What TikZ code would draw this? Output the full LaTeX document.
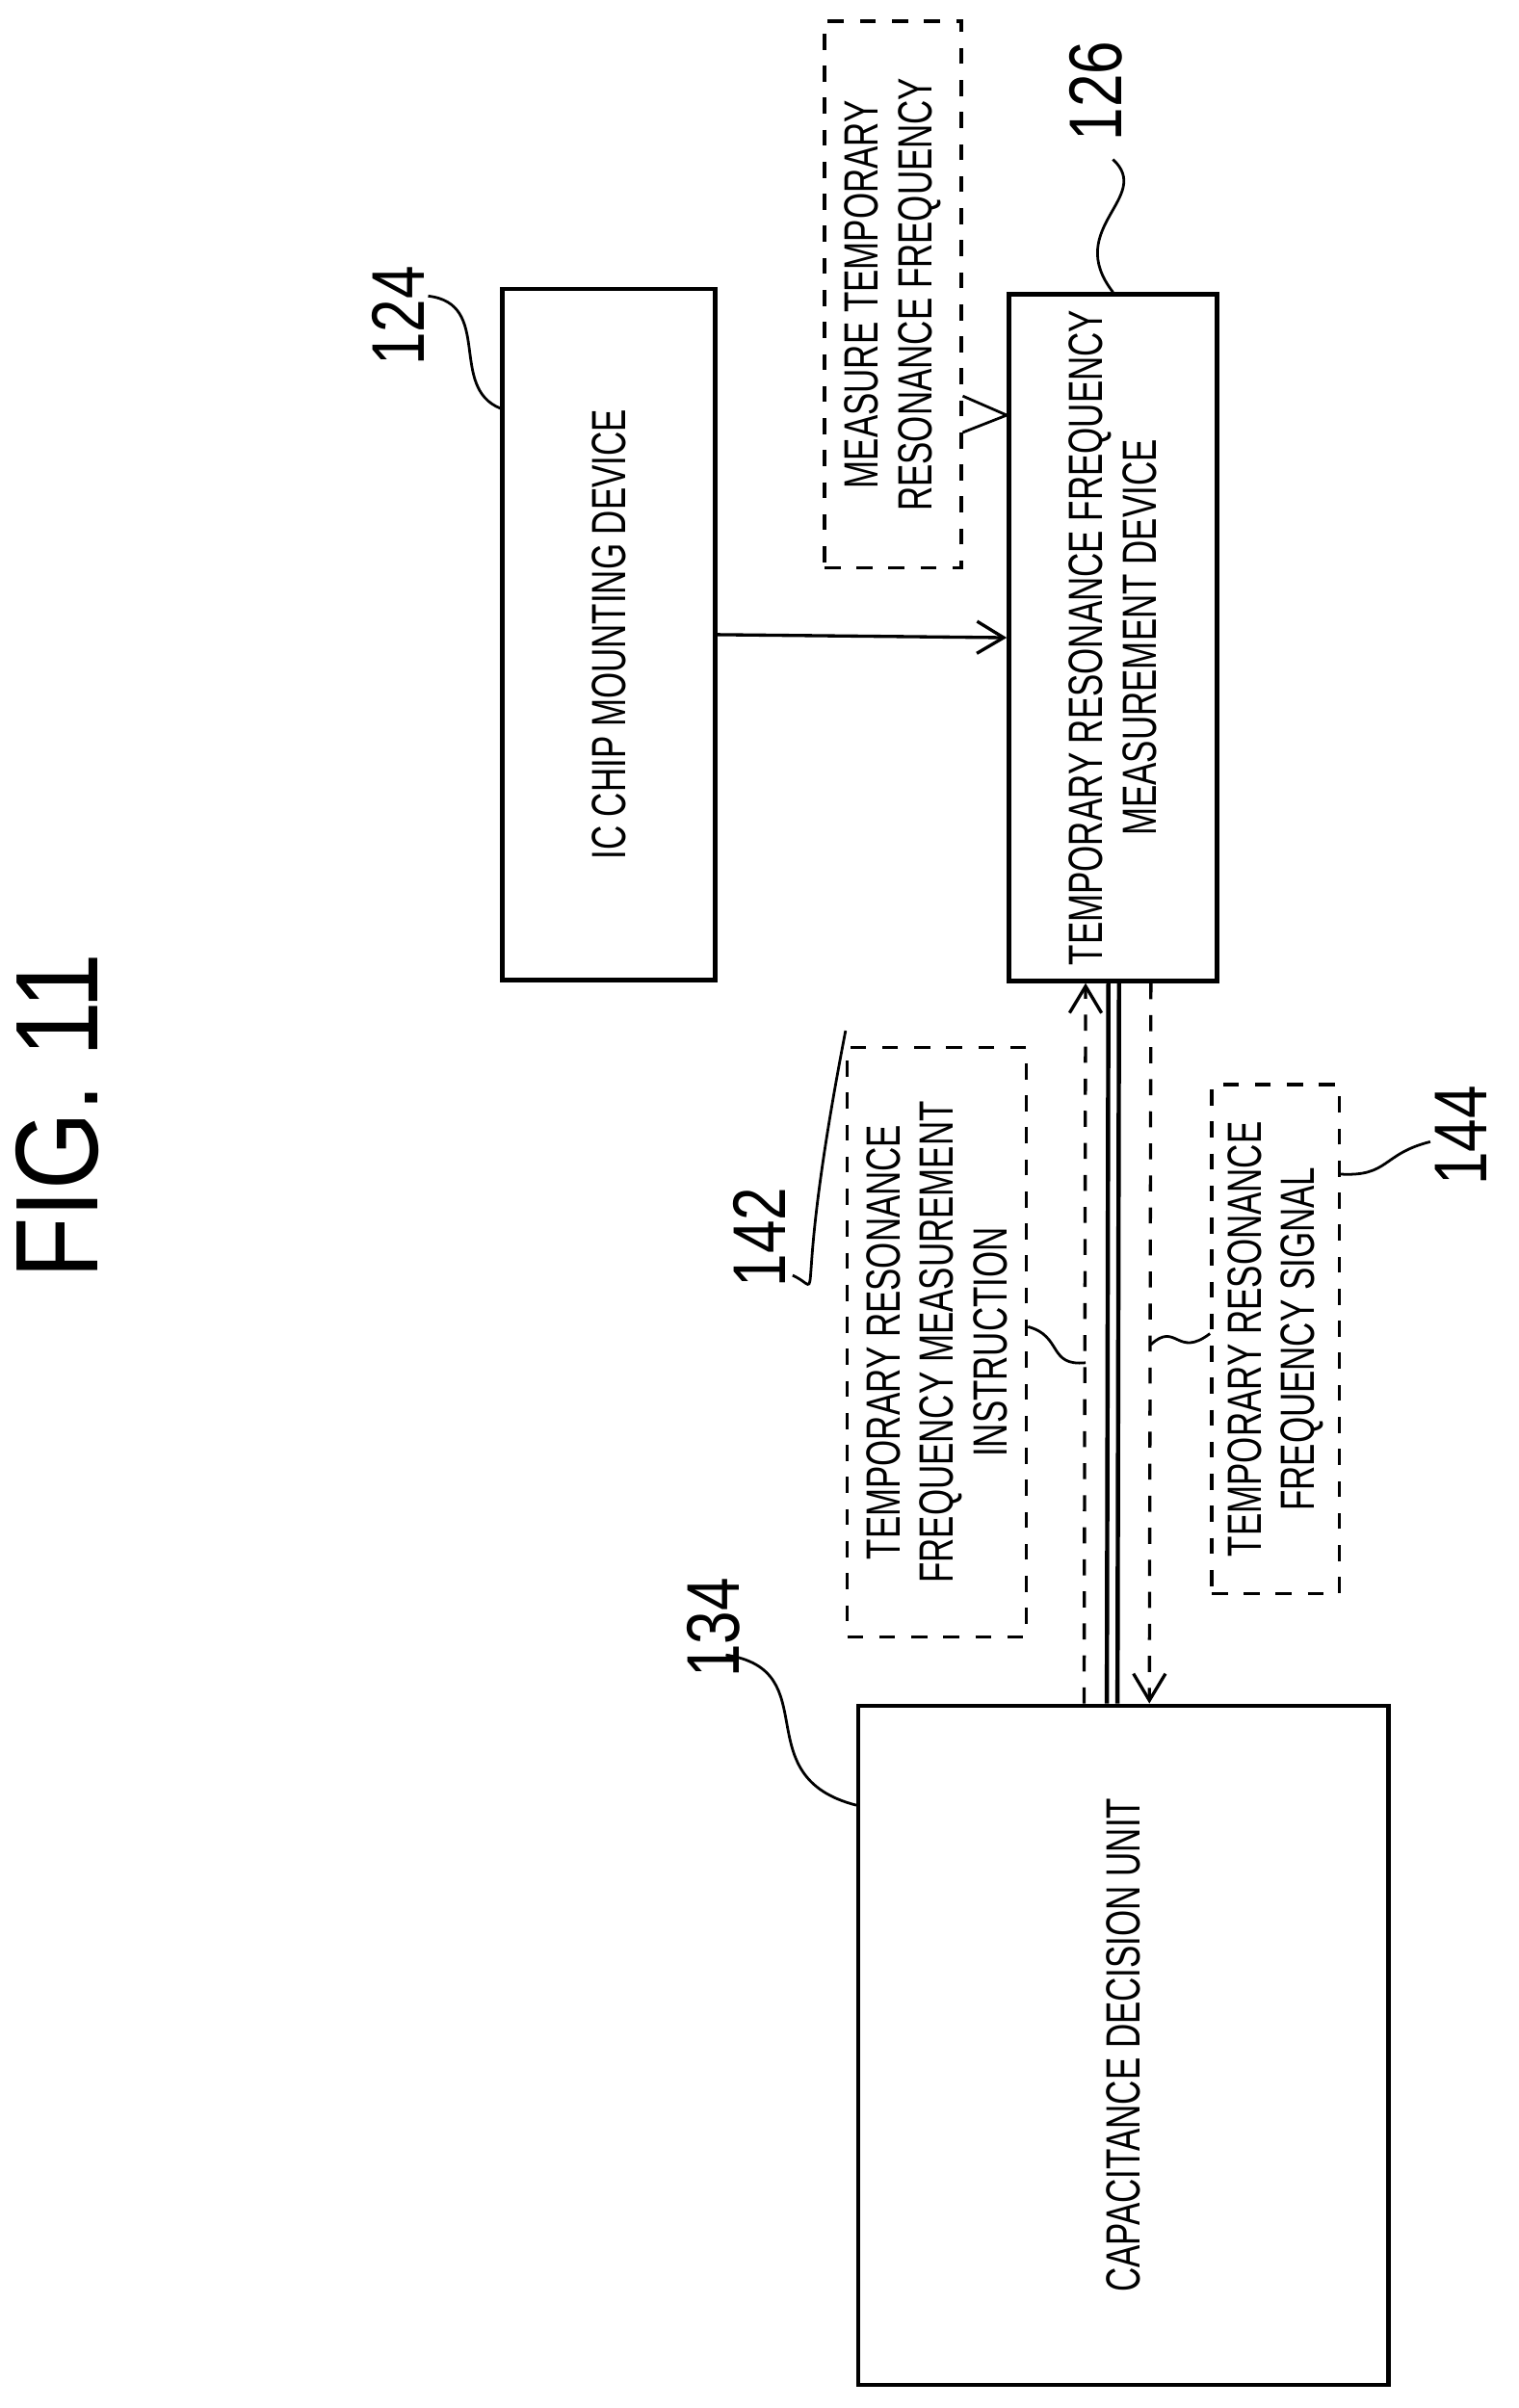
\documentclass[tikz,border=0pt]{standalone}
\usepackage{fontspec}
\setmainfont{Liberation Sans}
\usetikzlibrary{calc,arrows.meta}
\begin{document}
\begin{tikzpicture}[x=0.01cm,y=-0.01cm,
    box/.style={draw,line width=0.8pt,inner sep=0pt},
    dbox/.style={draw,dashed,line width=0.6pt,inner sep=0pt},
    txt/.style={rotate=90,xscale=0.7,align=center,font=\fontsize{9}{10}\selectfont},
    num/.style={rotate=90,xscale=0.8,font=\fontsize{14}{14}\selectfont},
    lead/.style={line width=0.5pt},
    arr/.style={-{Straight Barb[length=5pt,width=6pt]},line width=0.6pt}]
  \useasboundingbox (0,0) rectangle (1000,1586);
  \node[rotate=90,xscale=0.85,font=\fontsize{22}{22}\selectfont] (fig) at (38,735) {FIG. 11};
  % boxes
  \node[box,minimum width=1.40cm,minimum height=4.55cm] (b124) at (401,418) {};
  \node[txt] at (b124) {IC CHIP MOUNTING DEVICE};
  \node[box,minimum width=1.37cm,minimum height=4.52cm] (b126) at (733,420) {};
  \node[txt] at (b126) {TEMPORARY RESONANCE FREQUENCY\\MEASUREMENT DEVICE};
  \node[box,minimum width=3.49cm,minimum height=4.47cm] (b134) at (740,1347) {};
  \node[txt] at (b134) {CAPACITANCE DECISION UNIT};
  % dashed labels
  \node[dbox,minimum width=0.90cm,minimum height=3.60cm] (d126) at (588,194) {};
  \node[txt] at (d126) {MEASURE TEMPORARY\\RESONANCE FREQUENCY};
  \node[dbox,minimum width=1.18cm,minimum height=3.88cm] (d142) at (617,884) {};
  \node[txt] at (d142) {TEMPORARY RESONANCE\\FREQUENCY MEASUREMENT\\INSTRUCTION};
  \node[dbox,minimum width=0.84cm,minimum height=3.35cm] (d144) at (840,882) {};
  \node[txt] at (d144) {TEMPORARY RESONANCE\\FREQUENCY SIGNAL};
  % numbers
  \node[num] (n124) at (262,208) {124};
  \node[num] (n126) at (722,60) {126};
  \node[num] (n142) at (500,815) {142};
  \node[num] (n144) at (962,748) {144};
  \node[num] (n134) at (470,1072) {134};
  % connectors
  \draw[arr] (b124.east) -- (b126.west);
  \draw[line width=0.8pt] ($(b126.south)+(-3,0)$) -- ($(b134.north west)+(165,0)$);
  \draw[line width=0.8pt] ($(b126.south)+(4,0)$) -- ($(b134.north west)+(172,0)$);
  \draw[arr,dashed] ($(b134.north west)+(150,0)$) -- ($(b126.south)+(-18,0)$);
  \draw[arr,dashed] ($(b126.south)+(25,0)$) -- ($(b134.north west)+(193,0)$);
  % leaders
  \draw[lead] (282,195) .. controls (325,200) and (295,255) .. ($(b124.north west)+(0,80)$);
  \draw[lead] (733,105) .. controls (760,130) and (700,150) .. ($(b126.north west)+(70,0)$);
  \draw[lead] ($(d126.north east)+(0,248)$) -- ($(b126.north west)+(0,81)$) -- ($(d126.north east)+(0,272)$);
  \draw[lead] (522,840) .. controls (545,850) and (520,870) .. ($(d142.north west)+(0,-10)$);
  \draw[lead] ($(d142.north east)+(0,185)$) .. controls (700,880) and (690,900) .. ($(b126.south)+(-18,250)$);
  \draw[lead] (942,752) .. controls (910,760) and (915,775) .. ($(d144.north east)+(0,60)$);
  \draw[lead] ($(d144.north west)+(0,165)$) .. controls (775,895) and (775,870) .. ($(b126.south)+(25,238)$);
  \draw[lead] (478,1090) .. controls (545,1100) and (490,1170) .. ($(b134.north west)+(0,67)$);
\end{tikzpicture}
\end{document}
